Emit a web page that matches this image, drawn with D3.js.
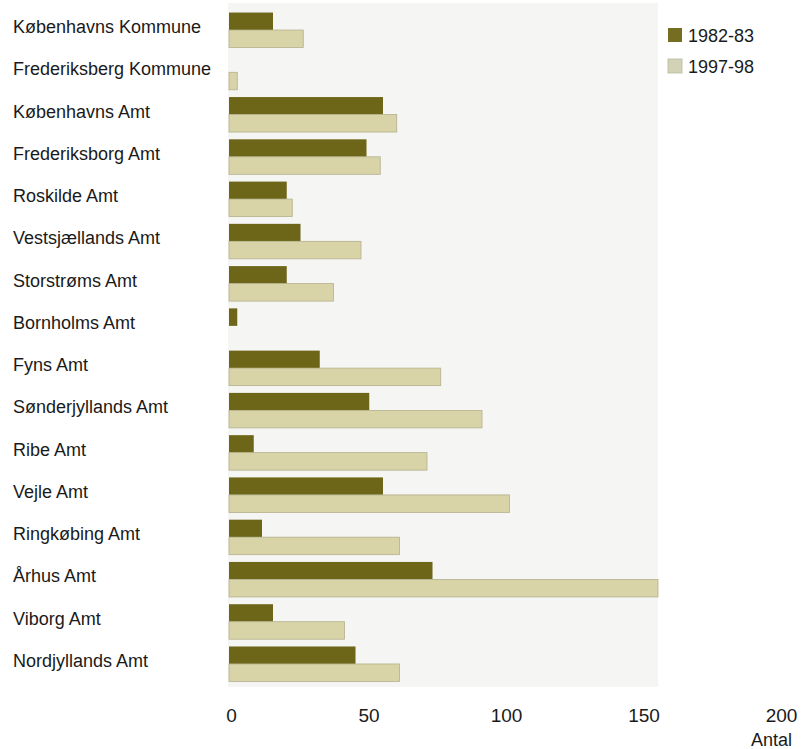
<!DOCTYPE html>
<html>
<head>
<meta charset="utf-8">
<script src="https://cdn.jsdelivr.net/npm/d3@7"></script>
<style>
  html, body { margin: 0; padding: 0; background: #ffffff; }
  svg { display: block; }
  text { font-family: "Liberation Sans", Arial, sans-serif; fill: #1a1a1a; }
</style>
</head>
<body>
<svg id="chart" width="804" height="749"></svg>
<script>
const categories = [
  "Københavns Kommune", "Frederiksberg Kommune", "Københavns Amt", "Frederiksborg Amt",
  "Roskilde Amt", "Vestsjællands Amt", "Storstrøms Amt", "Bornholms Amt",
  "Fyns Amt", "Sønderjyllands Amt", "Ribe Amt", "Vejle Amt",
  "Ringkøbing Amt", "Århus Amt", "Viborg Amt", "Nordjyllands Amt"
];
const seriesNames = ["1982-83", "1997-98"];
const values1982 = [16, 0, 56, 50, 21, 26, 21, 3, 33, 51, 9, 56, 12, 74, 16, 46];
const values1997 = [27, 3, 61, 55, 23, 48, 38, 0, 77, 92, 72, 102, 62, 156, 42, 62];
const tickValues = [0, 50, 100, 150, 200];
const axisTitle = "Antal";

const colors = { "1982-83": "#6d6618", "1997-98": "#d8d4a8" };
const strokes = { "1982-83": "none", "1997-98": "#b4b08c" };

const rows = categories.map((c, i) => ({ cat: c, "1982-83": values1982[i], "1997-98": values1997[i] }));

const svg = d3.select("#chart");

const x = d3.scaleLinear().domain([0, 200]).range([229, 779]);
const y = d3.scaleBand().domain(categories).range([8.9, 685.1]).paddingInner(0.172).paddingOuter(0.086);
const ySub = d3.scaleBand().domain(seriesNames).range([0, y.bandwidth()]).padding(0);

const maxVal = d3.max(values1997.concat(values1982));

// plot background
svg.append("rect")
  .attr("x", x(0) - 1)
  .attr("y", 3)
  .attr("width", x(maxVal) - x(0) + 1)
  .attr("height", 684)
  .attr("fill", "#f5f5f3");

// bars
const groups = svg.append("g").selectAll("g")
  .data(rows).join("g")
  .attr("transform", d => `translate(0,${y(d.cat)})`);

groups.selectAll("rect")
  .data(d => seriesNames.map(s => ({ s, v: d[s] })).filter(e => e.v > 0))
  .join("rect")
  .attr("x", x(0))
  .attr("y", e => ySub(e.s))
  .attr("width", e => x(e.v) - x(0))
  .attr("height", ySub.bandwidth())
  .attr("fill", e => colors[e.s])
  .attr("stroke", e => strokes[e.s])
  .attr("stroke-width", 0.8);

// category labels
svg.append("g").selectAll("text")
  .data(categories).join("text")
  .attr("x", 13)
  .attr("y", c => y(c) + y.bandwidth() / 2 + 3)
  .attr("font-size", 18)
  .text(c => c);

// x axis
const xAxis = d3.axisBottom(x).tickValues(tickValues).tickSize(0).tickPadding(0).tickFormat(d3.format("d"));
const gx = svg.append("g").attr("transform", "translate(0,706)").call(xAxis);
gx.select(".domain").remove();
gx.selectAll("text")
  .attr("font-size", 19)
  .attr("font-family", "Liberation Sans, Arial, sans-serif")
  .attr("fill", "#1a1a1a")
  .attr("dy", "0.85em")
  .attr("transform", "translate(2,0)");

svg.append("text")
  .attr("x", 792)
  .attr("y", 746)
  .attr("text-anchor", "end")
  .attr("font-size", 18)
  .text(axisTitle);

// legend
const legend = svg.append("g").selectAll("g")
  .data(seriesNames).join("g")
  .attr("transform", (d, i) => `translate(668,${28 + i * 31})`);
legend.append("rect")
  .attr("width", 14).attr("height", 14)
  .attr("fill", d => d === "1982-83" ? "#756d22" : "#d2d2b6")
  .attr("stroke", d => d === "1982-83" ? "none" : "#b8b89e")
  .attr("stroke-width", 0.8);
legend.append("text")
  .attr("x", 20)
  .attr("y", 14)
  .attr("font-size", 18)
  .text(d => d);
</script>
</body>
</html>
